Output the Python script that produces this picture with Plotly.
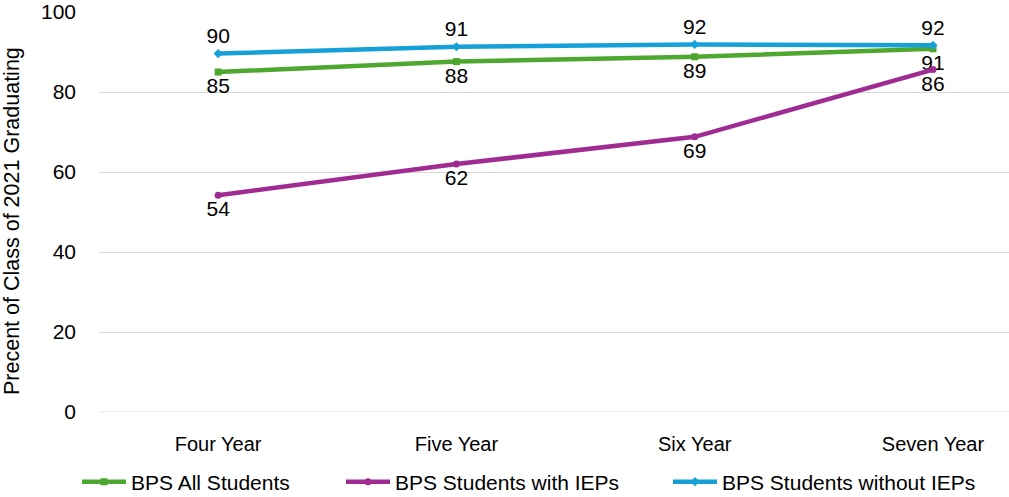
import plotly.graph_objects as go

categories = ["Four Year", "Five Year", "Six Year", "Seven Year"]
all_students = [85.0, 87.6, 88.8, 90.8]
with_ieps = [54.2, 62.0, 68.8, 85.6]
without_ieps = [89.6, 91.3, 91.9, 91.7]
y_ticks = [0, 20, 40, 60, 80, 100]
y_title = "Precent of Class of 2021 Graduating"

x = list(range(len(categories)))
NUM = "Liberation Sans"
TXT = "Liberation Sans"

series = [
    ("BPS All Students", all_students, "#4EA72E", "square", "bottom center", "legend"),
    ("BPS Students with IEPs", with_ieps, "#A02B93", "circle", "bottom center", "legend2"),
    ("BPS Students without IEPs", without_ieps, "#15A0D8", "diamond", "top center", "legend3"),
]

fig = go.Figure()
for name, vals, color, sym, tpos, leg in series:
    fig.add_trace(go.Scatter(
        x=x, y=vals, name=name, mode="lines+markers+text",
        line=dict(color=color, width=4.5),
        marker=dict(symbol=sym, size=7, color=color),
        text=vals, texttemplate="%{y:.0f}", textposition=tpos,
        textfont=dict(family=NUM, size=21, color="#000000"),
        cliponaxis=False, legend=leg,
    ))

fig.update_layout(
    width=1009, height=497,
    margin=dict(l=99, r=0, t=12, b=85),
    paper_bgcolor="white", plot_bgcolor="white",
    font=dict(family=TXT, size=20, color="#000000"),
    xaxis=dict(
        range=[-0.5, 3.319], tickvals=x, ticktext=categories,
        showgrid=False, zeroline=False, showline=False,
        tickfont=dict(family=TXT, size=20, color="#000000"),
        ticks="", ticklabelstandoff=18,
    ),
    yaxis=dict(
        range=[0, 100], tickvals=y_ticks, showgrid=True,
        gridcolor="#D9D9D9", gridwidth=1, zeroline=False, showline=False,
        tickfont=dict(family=NUM, size=21, color="#000000"),
        ticklabelstandoff=22,
    ),
    showlegend=True,
    annotations=[dict(
        text=y_title, textangle=-90, xref="paper", yref="paper",
        x=(12 - 99) / 910, y=(412 - 221) / 400, xanchor="center", yanchor="middle",
        showarrow=False, font=dict(family=TXT, size=21.5, color="#000000"),
    )],
)
fig.update_layout(shapes=[dict(type="line", xref="paper", yref="y", x0=0, x1=1, y0=0, y1=0,
                               line=dict(color="#D9D9D9", width=1), layer="below")])

for leg, xpos in [("legend", 77), ("legend2", 341), ("legend3", 668)]:
    fig.update_layout({leg: dict(
        xref="container", yref="container", x=xpos / 1009, y=1 - 482 / 497,
        xanchor="left", yanchor="middle", orientation="h", itemwidth=44,
        bgcolor="rgba(0,0,0,0)", borderwidth=0,
        font=dict(family=TXT, size=21, color="#000000"),
    )})

fig.write_html("out.html")
